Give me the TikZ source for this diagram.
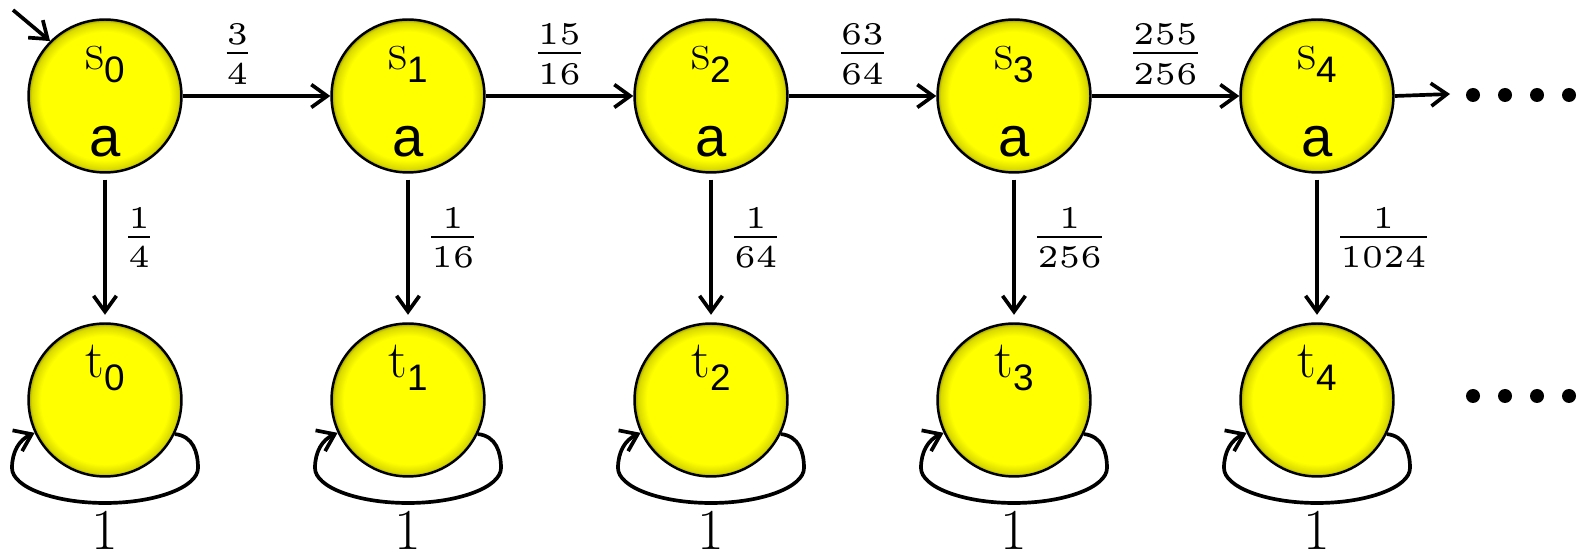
\documentclass[tikz,border=0pt]{standalone}
\usepackage{fontspec}
\setsansfont{Liberation Sans}
\usetikzlibrary{arrows.meta,calc}
\pgfdeclareradialshading{ballrim}{\pgfpoint{0bp}{0bp}}{color(0bp)=(yellow); color(21bp)=(yellow); color(24bp)=(yellow!85!black); color(25bp)=(yellow!60!black); color(50bp)=(yellow!60!black)}
\newcommand\stname[2]{{\fontsize{30}{30}\selectfont #1}\raisebox{-7.4pt}{\sffamily\fontsize{21}{21}\selectfont #2}}
\newcommand\bigfrac[2]{\scalebox{3.6}{$\scriptscriptstyle\frac{#1\rule[-0.75pt]{0pt}{0.75pt}}{\rule{0pt}{4.3pt}#2}$}}
\tikzset{
  state/.style={circle, draw=black, line width=1.4pt, minimum size=3.06cm, inner sep=0pt, shading=ballrim},
  edge/.style={-{Straight Barb[length=9pt,width=13pt]}, line width=2.1pt},
  nm/.style={inner sep=0pt, anchor=base},
  ap/.style={inner sep=0pt, anchor=base, font=\sffamily\fontsize{32}{32}\selectfont},
  frac/.style={inner sep=0pt},
  vfrac/.style={inner sep=0pt, midway, anchor=west, xshift=0.28cm, yshift=0.2cm},
  hfrac/.style={inner sep=0pt, anchor=south, yshift=0.2cm},
  one/.style={inner sep=0pt, anchor=base, font=\fontsize{33}{33}\selectfont},
  dot/.style={circle, fill=black, inner sep=0pt, minimum size=0.28cm},
  selfloop/.style={-{Straight Barb[length=9pt,width=13pt]}, line width=2.1pt}
}
\begin{document}
\begin{tikzpicture}[x=0.02cm,y=-0.02cm]
\useasboundingbox (0,0) rectangle (1580,560);
% states
\foreach \i/\x in {0/105,1/408,2/711,3/1014,4/1317}{
  \node[state] (s\i) at (\x,96) {};
  \node[state] (t\i) at (\x,400) {};
  \node[nm] (s\i n) at (\x,70) {\stname{s}{\i}};
  \node[ap] (s\i a) at (\x,157) {a};
  \node[nm] (t\i n) at (\x,378) {\stname{t}{\i}};
  \coordinate (rr\i) at (\x+93,468);
  \coordinate (b\i) at (\x,503);
  \coordinate (rl\i) at (\x-93,468);
  \draw[selfloop] (t\i.-26) .. controls (\x+88,436) and (\x+93,452) .. (rr\i)
        .. controls (\x+93,487) and (\x+51,503) .. (b\i)
        .. controls (\x-51,503) and (\x-93,487) .. (rl\i)
        .. controls (\x-93,452) and (\x-86,440) .. (t\i.205);
  \node[one] (one\i) at (\x,550) {1};
}
% initial arrow
\coordinate (init) at (13,10);
\draw[edge] (init) -- (s0.135);
% horizontal
\draw[edge] (s0.east) -- node[hfrac, pos=0.37] (h0) {\bigfrac{3}{4}} (s1.west);
\draw[edge] (s1.east) -- node[hfrac, midway] (h1) {\bigfrac{15}{16}} (s2.west);
\draw[edge] (s2.east) -- node[hfrac, midway] (h2) {\bigfrac{63}{64}} (s3.west);
\draw[edge] (s3.east) -- node[hfrac, midway] (h3) {\bigfrac{255}{256}} (s4.west);
\coordinate (outend) at (1450,94);
\draw[edge] (s4.east) -- (outend);
% vertical
\draw[edge, shorten <=0.12cm, shorten >=0.15cm] (s0.south) -- node[vfrac] (v0) {\bigfrac{1}{4}} (t0.north);
\draw[edge, shorten <=0.12cm, shorten >=0.15cm] (s1.south) -- node[vfrac] (v1) {\bigfrac{1}{16}} (t1.north);
\draw[edge, shorten <=0.12cm, shorten >=0.15cm] (s2.south) -- node[vfrac] (v2) {\bigfrac{1}{64}} (t2.north);
\draw[edge, shorten <=0.12cm, shorten >=0.15cm] (s3.south) -- node[vfrac] (v3) {\bigfrac{1}{256}} (t3.north);
\draw[edge, shorten <=0.12cm, shorten >=0.15cm] (s4.south) -- node[vfrac] (v4) {\bigfrac{1}{1024}} (t4.north);
% dots
\foreach \k/\x in {0/1473,1/1505,2/1537,3/1569}{
  \node[dot] (da\k) at (\x,95) {};
  \node[dot] (db\k) at (\x,396) {};
}
\end{tikzpicture}
\end{document}
